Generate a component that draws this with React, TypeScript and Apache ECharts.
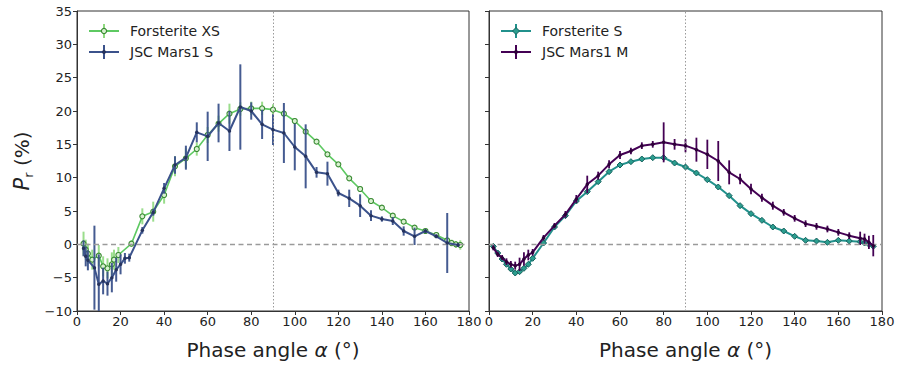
import React, { useEffect, useRef } from 'react';
import * as echarts from 'echarts';

// ---------- data ----------
const xsAngles = [3, 4, 5, 7, 10, 12, 14, 16, 17, 19, 25, 30, 35, 40, 45, 50, 55, 60, 65, 70, 75, 80, 85, 90, 95, 100, 105, 110, 115, 120, 125, 130, 135, 140, 145, 150, 155, 160, 165, 170, 172, 174, 176];
const xsValues = [0.1, -0.8, -1.4, -2.3, -1.7, -3.3, -3.6, -3.0, -2.3, -1.6, 0.1, 4.2, 4.9, 7.4, 11.7, 12.9, 14.3, 16.4, 18.1, 19.6, 20.3, 20.4, 20.4, 20.2, 19.6, 18.5, 16.9, 15.4, 13.5, 12.0, 9.9, 8.3, 6.5, 5.5, 4.3, 3.4, 2.5, 2.0, 1.4, 0.6, 0.2, 0.0, -0.1];
const xsErrors = [1.8, 1.5, 1.5, 1.5, 1.6, 1.5, 1.5, 1.8, 1.5, 1.2, 0.5, 1.2, 1.5, 1.3, 1.5, 1.5, 1.0, 1.2, 1.2, 1.5, 1.0, 1.0, 1.0, 0.8, 0.5, 0.4, 0.3, 0.3, 0.3, 0.3, 0.3, 0.3, 0.3, 0.3, 0.3, 0.3, 0.3, 0.3, 0.3, 0.4, 0.5, 0.5, 0.7];

const msAngles = [3, 4, 5, 8, 10, 12, 14, 16, 18, 20, 22, 24, 30, 35, 40, 45, 50, 55, 60, 65, 70, 75, 80, 85, 90, 95, 100, 105, 110, 115, 120, 125, 130, 135, 140, 145, 150, 155, 160, 165, 170, 175];
const msValues = [-0.6, -1.8, -2.4, -3.5, -6.0, -5.5, -5.9, -5.0, -3.8, -3.0, -2.1, -2.0, 2.1, 4.8, 8.4, 11.9, 13.0, 16.8, 16.2, 18.2, 17.0, 20.6, 20.0, 18.0, 17.2, 16.7, 14.6, 13.2, 10.8, 10.6, 7.7, 6.9, 5.8, 4.3, 3.8, 3.5, 2.0, 1.2, 2.0, 1.2, 0.2, -0.1];
const msErrors = [1.2, 1.5, 1.5, 6.3, 4.5, 2.0, 1.8, 2.2, 1.8, 1.5, 0.8, 0.6, 0.5, 0.5, 0.8, 1.3, 1.8, 1.5, 3.7, 2.9, 3.0, 6.4, 1.3, 2.2, 2.3, 4.5, 3.5, 4.8, 0.8, 1.8, 0.5, 1.3, 1.7, 0.8, 0.4, 0.6, 0.7, 1.3, 0.3, 0.3, 4.5, 0.3];

const fsAngles = [2, 4, 6, 8, 10, 12, 14, 16, 18, 20, 25, 30, 35, 40, 45, 50, 55, 60, 65, 70, 75, 80, 85, 90, 95, 100, 105, 110, 115, 120, 125, 130, 135, 140, 145, 150, 155, 160, 165, 170, 172, 174, 176];
const fsValues = [-0.3, -1.3, -2.2, -3.0, -3.7, -4.3, -4.1, -3.6, -3.0, -2.1, 0.2, 2.6, 4.3, 6.5, 7.9, 9.4, 10.9, 11.9, 12.4, 12.8, 13.0, 13.0, 12.2, 11.6, 10.7, 9.7, 8.6, 7.3, 5.8, 4.6, 3.6, 2.6, 2.0, 1.2, 0.6, 0.5, 0.3, 0.6, 0.5, 0.4, 0.2, 0.0, -0.3];
const fsErrors = [0.3, 0.3, 0.3, 0.3, 0.3, 0.3, 0.3, 0.3, 0.3, 0.3, 0.2, 0.2, 0.2, 0.2, 0.2, 0.2, 0.2, 0.2, 0.2, 0.2, 0.2, 0.3, 0.2, 0.2, 0.2, 0.2, 0.2, 0.2, 0.2, 0.2, 0.2, 0.2, 0.2, 0.2, 0.2, 0.2, 0.2, 0.2, 0.2, 0.2, 0.2, 0.2, 0.3];

const mmAngles = [2, 4, 6, 8, 10, 12, 14, 16, 18, 20, 25, 30, 35, 40, 45, 50, 55, 60, 65, 70, 75, 80, 85, 90, 95, 100, 105, 110, 115, 120, 125, 130, 135, 140, 145, 150, 155, 160, 165, 170, 172, 174, 176];
const mmValues = [-0.5, -1.5, -2.0, -2.6, -3.0, -3.2, -3.0, -2.2, -1.6, -1.2, 1.0, 2.8, 4.5, 6.8, 9.0, 10.3, 12.0, 13.4, 14.0, 14.8, 15.0, 15.3, 15.0, 14.8, 14.2, 13.5, 12.5, 10.8, 9.8, 8.3, 7.0, 5.8, 4.8, 3.9, 3.1, 2.7, 2.3, 1.8, 1.3, 0.9, 0.8, 0.3, -0.2];
const mmErrors = [0.4, 0.4, 0.4, 0.5, 0.5, 0.6, 1.0, 1.0, 0.8, 0.5, 0.4, 0.4, 0.5, 0.6, 1.3, 0.6, 0.6, 0.6, 0.5, 0.5, 0.5, 3.0, 0.8, 1.0, 1.8, 2.2, 3.0, 1.8, 0.8, 0.8, 0.6, 0.6, 0.5, 0.5, 0.5, 0.5, 0.5, 0.5, 0.5, 1.0, 0.8, 1.0, 1.6];

const legendLeft = ['Forsterite XS', 'JSC Mars1 S'];
const legendRight = ['Forsterite S', 'JSC Mars1 M'];
const xTicks = { min: 0, max: 180, interval: 20 };
const yTicks = { min: -10, max: 35, interval: 5 };
const xName = 'Phase angle {it|α} (°)';
const yName = '{i|P}{s|r} (%)';

// ---------- styling ----------
const FONT = 'DejaVu Sans';
const C_GREEN = '#5ec962';
const C_GREEN_EDGE = '#3a8a33';
const C_GREEN_ERR = '#8fd97f';
const C_BLUE = '#3b528b';
const C_BLUE_DOT = '#26335e';
const C_TEAL = '#21918c';
const C_TEAL_EDGE = '#17615e';
const C_PURPLE = '#440154';

const pairs = (a: number[], v: number[]) => a.map((x, i) => [x, v[i]]);
const bars = (a: number[], v: number[], e: number[]) => a.map((x, i) => [x, v[i] - e[i], v[i] + e[i]]);

function errSeries(data: number[][], color: string, width: number, axis: number, z: number, opacity = 1) {
  return {
    type: 'custom',
    xAxisIndex: axis,
    yAxisIndex: axis,
    z,
    silent: true,
    clip: true,
    data,
    encode: { x: 0, y: [1, 2] },
    renderItem: (params: any, api: any) => {
      const x = api.value(0);
      const lo = Math.max(api.value(1), yTicks.min);
      const hi = Math.min(api.value(2), yTicks.max);
      const p1 = api.coord([x, lo]);
      const p2 = api.coord([x, hi]);
      return {
        type: 'line',
        shape: { x1: p1[0], y1: p1[1], x2: p2[0], y2: p2[1] },
        style: { stroke: color, lineWidth: width, opacity },
      };
    },
  };
}

const negFmt = (v: number) => (v < 0 ? '\u2212' + Math.abs(v) : String(v));

function legendGraphics(x0: number, rows: { y: number; text: string; color: string; err: string; marker: string; fill: string; edge: string }[]) {
  const els: any[] = [];
  rows.forEach((r) => {
    const cx = x0 + 15;
    els.push({ type: 'line', shape: { x1: x0, y1: r.y, x2: x0 + 30, y2: r.y }, style: { stroke: r.color, lineWidth: 2 } });
    els.push({ type: 'line', shape: { x1: cx, y1: r.y - 7, x2: cx, y2: r.y + 7 }, style: { stroke: r.err, lineWidth: 2 } });
    if (r.marker === 'circle') {
      els.push({ type: 'circle', shape: { cx, cy: r.y, r: 2.6 }, style: { fill: r.fill, stroke: r.edge, lineWidth: 1.2 } });
    } else if (r.marker === 'diamond') {
      els.push({ type: 'polygon', shape: { points: [[cx, r.y - 3.5], [cx + 3.5, r.y], [cx, r.y + 3.5], [cx - 3.5, r.y]] }, style: { fill: r.fill, stroke: r.edge, lineWidth: 1 } });
    } else {
      els.push({ type: 'circle', shape: { cx, cy: r.y, r: 2 }, style: { fill: r.fill } });
    }
    els.push({ type: 'text', x: x0 + 41, y: r.y, style: { text: r.text, fontFamily: FONT, fontSize: 14, fill: '#222', verticalAlign: 'middle', align: 'left' } });
  });
  return els;
}

function axisX(gridIndex: number) {
  return {
    type: 'value',
    gridIndex,
    min: xTicks.min,
    max: xTicks.max,
    interval: xTicks.interval,
    name: xName,
    nameLocation: 'middle',
    nameGap: 29,
    nameTextStyle: {
      fontFamily: FONT,
      fontSize: 20,
      color: '#222',
      rich: { it: { fontFamily: FONT, fontSize: 20, fontStyle: 'italic', color: '#222' } },
    },
    axisLine: { show: true, onZero: false, lineStyle: { color: '#333', width: 1 } },
    axisTick: { show: true, inside: false, length: 4, lineStyle: { color: '#333' } },
    axisLabel: { show: true, fontFamily: FONT, fontSize: 13, color: '#222', margin: 4, showMinLabel: true, showMaxLabel: true, hideOverlap: false },
    splitLine: { show: false },
  };
}

function axisY(gridIndex: number, labels: boolean) {
  const a: any = {
    type: 'value',
    gridIndex,
    min: yTicks.min,
    max: yTicks.max,
    interval: yTicks.interval,
    axisLine: { show: true, onZero: false, lineStyle: { color: '#333', width: 1 } },
    axisTick: { show: true, inside: false, length: 4, lineStyle: { color: '#333' } },
    axisLabel: { show: labels, fontFamily: FONT, fontSize: 13, color: '#222', margin: 5, formatter: negFmt },
    splitLine: { show: false },
  };
  if (labels) {
    a.name = yName;
    a.nameLocation = 'middle';
    a.nameGap = 42;
    a.nameRotate = 90;
    a.nameTextStyle = {
      fontFamily: FONT,
      fontSize: 20,
      color: '#222',
      rich: {
        i: { fontFamily: FONT, fontSize: 21, fontStyle: 'italic', color: '#222', lineHeight: 26 },
        s: { fontFamily: FONT, fontSize: 13, color: '#222', lineHeight: 13, verticalAlign: 'bottom' },
      },
    };
  }
  return a;
}

function refLines() {
  return {
    silent: true,
    symbol: ['none', 'none'],
    label: { show: false },
    lineStyle: { color: '#9a9a9a', width: 1.2, type: [5, 3.5], opacity: 1 },
    emphasis: { disabled: true },
    data: [
      { yAxis: 0, lineStyle: { color: '#9a9a9a', type: [5, 3.5], width: 1.3 } },
      { xAxis: 90, lineStyle: { color: '#9a9a9a', type: [1.5, 2], width: 1 } },
    ],
  };
}

export default function App() {
  const ref = useRef<HTMLDivElement>(null);
  useEffect(() => {
    if (!ref.current) return;
    const chart = echarts.init(ref.current, null, { renderer: 'svg' });
    const option: any = {
      animation: false,
      backgroundColor: '#ffffff',
      grid: [
        { left: 77, top: 11, width: 392, height: 300, show: true, borderColor: '#333', borderWidth: 1, backgroundColor: 'transparent' },
        { left: 489, top: 11, width: 393, height: 300, show: true, borderColor: '#333', borderWidth: 1, backgroundColor: 'transparent' },
      ],
      xAxis: [axisX(0), axisX(1)],
      yAxis: [axisY(0, true), axisY(1, false)],
      series: [
        // left panel
        {
          type: 'line', name: 'ref-left', xAxisIndex: 0, yAxisIndex: 0, data: [], z: 1,
          itemStyle: { color: '#9a9a9a' },
          markLine: refLines(),
        },
        errSeries(bars(xsAngles, xsValues, xsErrors), C_GREEN_ERR, 2, 0, 2, 0.9),
        {
          type: 'line', name: legendLeft[0], xAxisIndex: 0, yAxisIndex: 0, z: 3,
          data: pairs(xsAngles, xsValues),
          lineStyle: { color: C_GREEN, width: 1.6 },
          symbol: 'circle', symbolSize: 5, showAllSymbol: true,
          itemStyle: { color: '#d8f2d0', borderColor: C_GREEN_EDGE, borderWidth: 1.1 },
        },
        errSeries(bars(msAngles, msValues, msErrors), C_BLUE, 2, 0, 4, 0.95),
        {
          type: 'line', name: legendLeft[1], xAxisIndex: 0, yAxisIndex: 0, z: 5,
          data: pairs(msAngles, msValues),
          lineStyle: { color: C_BLUE, width: 2 },
          symbol: 'circle', symbolSize: 3.5, showAllSymbol: true,
          itemStyle: { color: C_BLUE_DOT, borderWidth: 0 },
        },
        // right panel
        {
          type: 'line', name: 'ref-right', xAxisIndex: 1, yAxisIndex: 1, data: [], z: 1,
          itemStyle: { color: '#9a9a9a' },
          markLine: refLines(),
        },
        errSeries(bars(fsAngles, fsValues, fsErrors), C_TEAL, 1.5, 1, 2),
        {
          type: 'line', name: legendRight[0], xAxisIndex: 1, yAxisIndex: 1, z: 3,
          data: pairs(fsAngles, fsValues),
          lineStyle: { color: C_TEAL, width: 2 },
          symbol: 'diamond', symbolSize: 6, showAllSymbol: true,
          itemStyle: { color: '#2b9e8f', borderColor: C_TEAL_EDGE, borderWidth: 1 },
        },
        errSeries(bars(mmAngles, mmValues, mmErrors), C_PURPLE, 1.8, 1, 4),
        {
          type: 'line', name: legendRight[1], xAxisIndex: 1, yAxisIndex: 1, z: 5,
          data: pairs(mmAngles, mmValues),
          lineStyle: { color: C_PURPLE, width: 2 },
          symbol: 'circle', symbolSize: 3.5, showAllSymbol: true,
          itemStyle: { color: '#2d0138', borderWidth: 0 },
        },
      ],
      graphic: [
        ...legendGraphics(89, [
          { y: 31, text: legendLeft[0], color: C_GREEN, err: C_GREEN_ERR, marker: 'circle', fill: '#d8f2d0', edge: C_GREEN_EDGE },
          { y: 52, text: legendLeft[1], color: C_BLUE, err: C_BLUE, marker: 'dot', fill: C_BLUE_DOT, edge: C_BLUE_DOT },
        ]),
        ...legendGraphics(501, [
          { y: 31, text: legendRight[0], color: C_TEAL, err: C_TEAL, marker: 'diamond', fill: '#2b9e8f', edge: C_TEAL_EDGE },
          { y: 52, text: legendRight[1], color: C_PURPLE, err: C_PURPLE, marker: 'dot', fill: '#2d0138', edge: '#2d0138' },
        ]),
      ],
    };
    chart.setOption(option);
    return () => chart.dispose();
  }, []);
  return (
    <div
      ref={ref}
      style={{ position: 'absolute', left: 0, top: 0, width: 901, height: 367, background: '#fff' }}
    />
  );
}
